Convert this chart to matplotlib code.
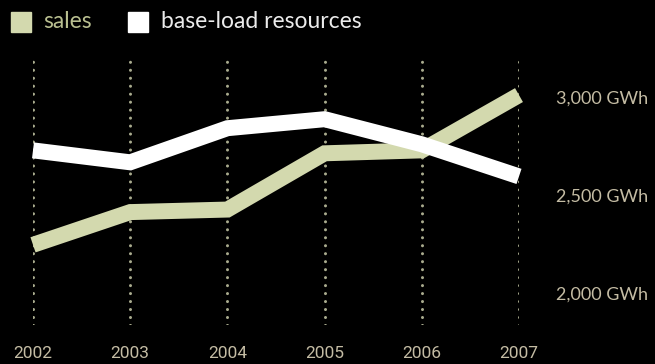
import matplotlib
matplotlib.use("Agg")
import matplotlib.pyplot as plt
from matplotlib.patches import Rectangle

years = [2002, 2003, 2004, 2005, 2006, 2007]
year_labels = ["2002", "2003", "2004", "2005", "2006", "2007"]
sales = [2246, 2413, 2426, 2713, 2728, 3010]
base_load = [2728, 2667, 2841, 2887, 2759, 2595]
y_ticks = [2000, 2500, 3000]
y_tick_labels = ["2,000 GWh", "2,500 GWh", "3,000 GWh"]

SALES_C = "#d3d9ae"
SALES_TXT = "#b9bf90"
BASE_C = "#ffffff"
BASE_TXT = "#ececec"
TICK_C = "#c4bca4"
DOT_C = "#a9ab8e"

W, H = 655, 364
fig = plt.figure(figsize=(W / 100, H / 100), dpi=100, facecolor="black")
ax = fig.add_axes([33 / W, 1 - 325 / H, 486 / W, 265 / H])
ax.set_facecolor("black")
ax.set_xlim(2002, 2007)
ax.set_ylim(1837, 3189)
for s in ax.spines.values():
    s.set_visible(False)

for yr in years:
    ax.axvline(yr, color=DOT_C, lw=2.2, linestyle=(0, (0.01, 2.6)),
               dash_capstyle="round", zorder=1)

ax.plot(years, sales, color=SALES_C, lw=11.5, solid_capstyle="butt",
        solid_joinstyle="miter", clip_on=False, zorder=2)
ax.plot(years, base_load, color=BASE_C, lw=11.5, solid_capstyle="butt",
        solid_joinstyle="miter", clip_on=False, zorder=3)

ax.set_xticks(years)
ax.set_xticklabels(year_labels, family="Roboto", fontsize=12.5, color=TICK_C)
ax.tick_params(axis="x", length=0, pad=15)
ax.yaxis.tick_right()
ax.set_yticks(y_ticks)
ax.set_yticklabels(y_tick_labels, family="Lato", fontsize=13, color=TICK_C)
ax.tick_params(axis="y", length=0, pad=26.5)

# legend
fig.add_artist(Rectangle((11 / W, 1 - 32 / H), 20 / W, 20 / H,
                         transform=fig.transFigure, color=SALES_C))
fig.add_artist(Rectangle((128 / W, 1 - 32 / H), 20 / W, 20 / H,
                         transform=fig.transFigure, color=BASE_C))
fig.text(43 / W, 1 - 22 / H, "sales", family="Lato", fontsize=16.5,
         color=SALES_TXT, va="center", ha="left")
fig.text(161 / W, 1 - 22 / H, "base-load resources", family="Lato",
         fontsize=16.5, color=BASE_TXT, va="center", ha="left")

fig.savefig("out.png", dpi=100, facecolor="black")
